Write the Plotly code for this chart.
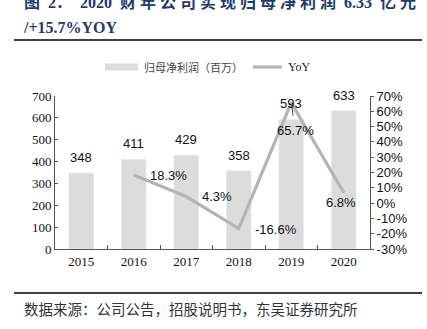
import plotly.graph_objects as go

# ---- data ----
years = ["2015", "2016", "2017", "2018", "2019", "2020"]
profit = [348, 411, 429, 358, 593, 633]           # 归母净利润（百万）
yoy = [None, 18.3, 4.3, -16.6, 65.7, 6.8]          # YoY %
left_ticks = [0, 100, 200, 300, 400, 500, 600, 700]
right_ticks = [-30, -20, -10, 0, 10, 20, 30, 40, 50, 60, 70]

W, H = 427, 329
L, R, T, B = 55, 370, 96, 249   # plot area in pixels


def px(x):
    return (x - L) / (R - L)


def py(y):
    return (B - y) / (B - T)


SERIF = "Liberation Serif, Times New Roman, serif"
SANS = "Liberation Sans, Arial, sans-serif"
CJK = "Noto Sans CJK SC, sans-serif"
BAR_C = "#dcdcdc"
LINE_C = "#b4b4b4"

fig = go.Figure()
fig.add_trace(go.Bar(x=years, y=profit, marker_color=BAR_C, width=0.47,
                     name="归母净利润（百万）", showlegend=False, yaxis="y"))
fig.add_trace(go.Scatter(x=years, y=yoy, mode="lines", line=dict(color=LINE_C, width=3.2),
                         name="YoY", showlegend=False, yaxis="y2", connectgaps=False))

ann = []
# bar value labels (x given as category index)
for i, v in enumerate(profit):
    ann.append(dict(x=i, y=v, xref="x", yref="y", text=str(v), showarrow=False,
                    yanchor="bottom", yshift=6, font=dict(family=SANS, size=13, color="#111")))

# yoy labels (offsets in pixels: xanchor, xshift, yshift)
yoy_label_style = {
    "2016": ("left", 14, 0),
    "2017": ("left", 14, 0),
    "2018": ("left", 14, -1),
    "2020": ("center", -3, -10),
}
for i, (x, v) in enumerate(zip(years, yoy)):
    if v is None:
        continue
    txt = f"{v:.1f}%"
    if x in yoy_label_style:
        xa, xs, ys = yoy_label_style[x]
        ann.append(dict(x=i, y=v, xref="x", yref="y2", text=txt, showarrow=False,
                        xanchor=xa, xshift=xs, yshift=ys,
                        font=dict(family=SANS, size=13, color="#111")))
    else:
        ann.append(dict(x=i, y=v, xref="x", yref="y2", text=txt, showarrow=True,
                        ax=4, ay=28, arrowhead=0, arrowwidth=0.8, arrowcolor="#111",
                        standoff=2.5, startstandoff=6,
                        font=dict(family=SANS, size=13, color="#111")))

# titles / captions
ann.append(dict(xref="paper", yref="paper", x=px(22), y=py(1.5), xanchor="left", yanchor="middle",
                text="<b>图  2：  2020  财 年 公 司 实 现 归 母 净 利 润  6.33  亿 元</b>", showarrow=False,
                font=dict(family=SERIF + ", " + CJK, size=16, color="#223a6a")))
ann.append(dict(xref="paper", yref="paper", x=px(21), y=py(27.5), xanchor="left", yanchor="middle",
                text="<b>/+15.7%YOY</b>", showarrow=False,
                font=dict(family=SERIF, size=16, color="#223a6a")))
ann.append(dict(xref="paper", yref="paper", x=px(22), y=py(308), xanchor="left", yanchor="middle",
                text="数据来源：公司公告，招股说明书，东吴证券研究所", showarrow=False,
                font=dict(family=CJK, size=14.5, color="#333")))
# legend
ann.append(dict(xref="paper", yref="paper", x=px(142), y=py(67), xanchor="left", yanchor="middle",
                text="归母净利润（百万）", showarrow=False, font=dict(family=CJK, size=11, color="#444")))
ann.append(dict(xref="paper", yref="paper", x=px(286), y=py(67), xanchor="left", yanchor="middle",
                text="YoY", showarrow=False, font=dict(family=SERIF, size=12, color="#222")))

shapes = [
    dict(type="line", xref="paper", yref="paper", x0=px(14), x1=px(422), y0=py(40), y1=py(40),
         line=dict(color="#000", width=1.6)),
    dict(type="line", xref="paper", yref="paper", x0=px(14), x1=px(422), y0=py(293), y1=py(293),
         line=dict(color="#000", width=1.6)),
    dict(type="rect", xref="paper", yref="paper", x0=px(105), x1=px(138), y0=py(70.5), y1=py(63.5),
         line=dict(width=0), fillcolor=BAR_C),
    dict(type="line", xref="paper", yref="paper", x0=px(253), x1=px(282), y0=py(67), y1=py(67),
         line=dict(color=LINE_C, width=3.2)),
]

fig.update_layout(
    width=W, height=H,
    margin=dict(l=L, r=W - R, t=T, b=H - B),
    paper_bgcolor="white", plot_bgcolor="white",
    showlegend=False, bargap=0.5,
    annotations=ann, shapes=shapes,
    xaxis=dict(type="category", range=[-0.5, 5.5], showgrid=False, showline=True, linecolor="#555",
               linewidth=1, ticks="inside", ticklen=4, tickcolor="#555", tickson="boundaries",
               tickangle=0, tickfont=dict(family=SERIF, size=13, color="#111")),
    yaxis=dict(range=[0, 700], tickvals=left_ticks, showgrid=False, showline=True, linecolor="#555",
               linewidth=1, ticks="inside", ticklen=3, tickcolor="#555", zeroline=False,
               tickfont=dict(family=SERIF, size=13, color="#111")),
    yaxis2=dict(range=[-30, 70], tickvals=right_ticks, ticktext=[f"{t}%" for t in right_ticks],
                overlaying="y", side="right", showgrid=False, showline=True, linecolor="#555",
                linewidth=1, ticks="outside", ticklen=3, tickcolor="#555", zeroline=False,
                tickfont=dict(family=SANS, size=13, color="#111")),
)

fig.write_html("out.html")
